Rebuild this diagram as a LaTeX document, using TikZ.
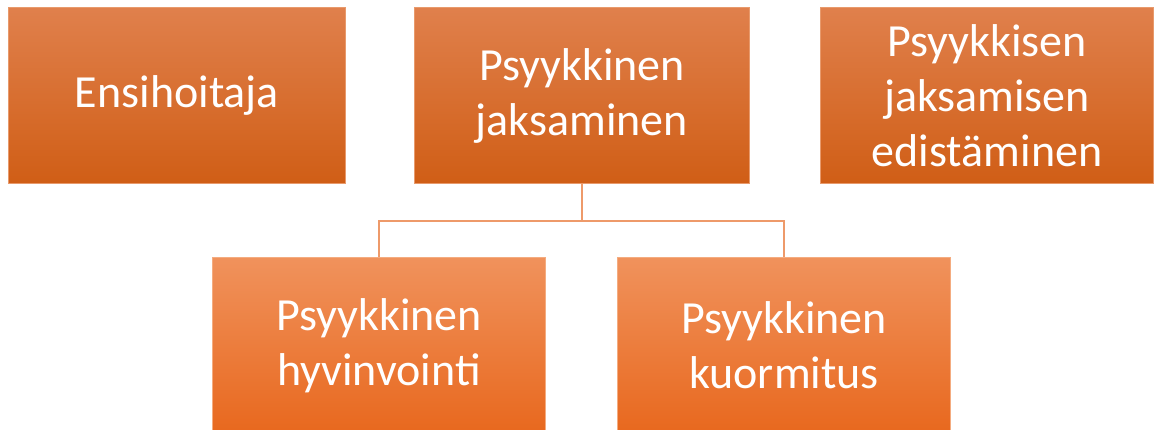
\documentclass[tikz,border=0pt]{standalone}
\usepackage{fontspec}
\setmainfont{Carlito}
\begin{document}
\begin{tikzpicture}[x=1pt,y=-1pt,
  topbox/.style={rectangle, anchor=north west, minimum width=#1, top color=topA, bottom color=topB, draw=topE, line width=1pt,
     text=white, font=\fontsize{46}{55}\selectfont, align=center, inner sep=0pt, minimum height=176},
  botbox/.style={rectangle, anchor=north west, minimum width=333, top color=botA, bottom color=botB, draw=botE, line width=1pt,
     text=white, font=\fontsize{46}{55}\selectfont, align=center, inner sep=0pt, minimum height=176},
  conn/.style={draw=lineC, line width=1.2pt}]
\definecolor{topA}{HTML}{E0804C}
\definecolor{topB}{HTML}{D05E16}
\definecolor{topE}{HTML}{E89A6C}
\definecolor{botA}{HTML}{F0925C}
\definecolor{botB}{HTML}{E8681E}
\definecolor{botE}{HTML}{F4AC80}
\definecolor{lineC}{HTML}{EE9A6A}
\useasboundingbox (0,0) rectangle (1156,430);
\node[topbox=337] (a) at (8,7) {Ensihoitaja};
\node[topbox=335] (b) at (414,7) {Psyykkinen\\jaksaminen};
\node[topbox=333] (c) at (820,7) {Psyykkisen\\jaksamisen\\edistäminen};
\node[botbox] (d) at (212,257) {Psyykkinen\\hyvinvointi};
\node[botbox] (e) at (617,257) {Psyykkinen\\kuormitus};
\coordinate (m) at (b.south |- 0,221);
\draw[conn] (b.south) -- (m) -| (d.north);
\draw[conn] (m) -| (e.north);
\end{tikzpicture}
\end{document}
